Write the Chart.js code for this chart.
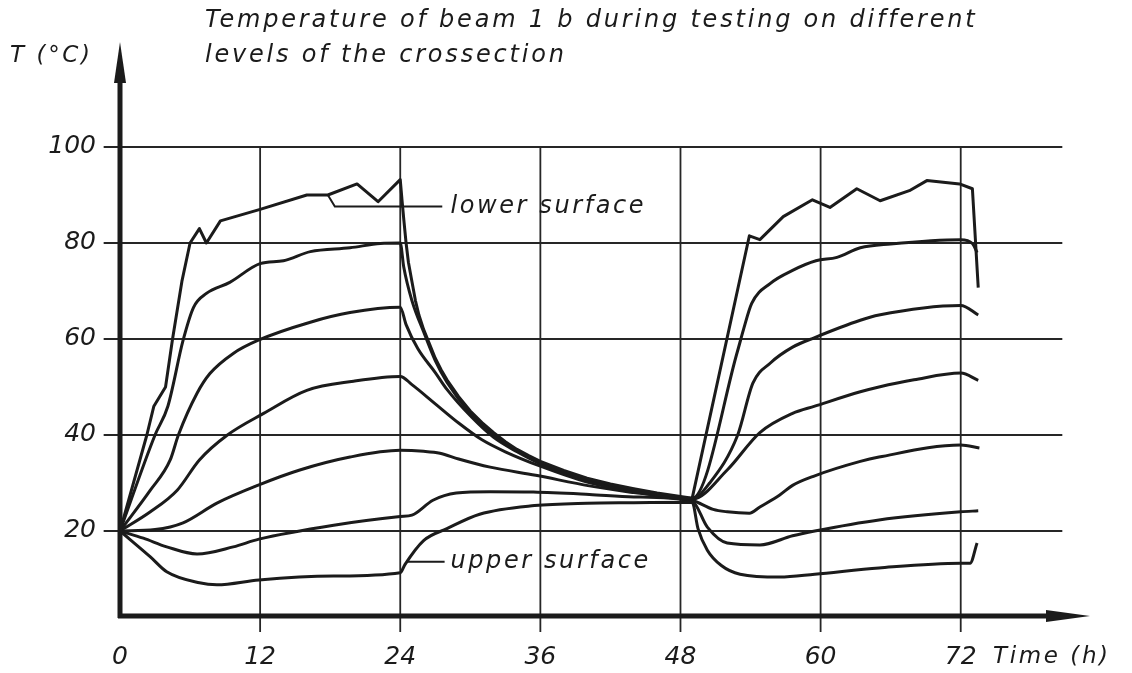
<!DOCTYPE html>
<html>
<head>
<meta charset="utf-8">
<title>Temperature of beam 1b</title>
<script src="https://cdn.jsdelivr.net/npm/chart.js@4.4.1/dist/chart.umd.min.js"></script>
<style>
  html, body { margin: 0; padding: 0; background: #fff; }
  #wrap { width: 1132px; height: 673px; }
</style>
</head>
<body>
<div id="wrap"><canvas id="chartContainer"></canvas></div>
<script>
// tick values of the two axes
const hourTicks = [0, 12, 24, 36, 48, 60, 72];
const tempTicks = [20, 40, 60, 80, 100];

// measured temperatures, one curve per level of the crossection (lower surface first)
const level1Time = [0, 2.3, 2.9, 3.9, 4.5, 5.3, 6.0, 6.8, 7.4, 8.6, 12, 16, 17.8, 20.3, 22.1, 24, 24.15, 24.3, 24.5, 24.7, 25, 25.3, 25.6, 26, 26.5, 27, 27.5, 28, 29, 30, 31, 32, 33, 34, 35, 36, 38, 40, 42, 44, 46, 49, 53.9, 54.8, 56.8, 59.3, 60.8, 63.1, 65.1, 67.6, 69.1, 71.9, 73, 73.5];
const level1Temp = [20, 40, 46, 50, 60, 72, 80, 83, 80, 84.6, 87, 90, 90, 92.3, 88.6, 93.2, 89, 85, 80, 76, 72, 68, 65, 62, 59, 56, 53.6, 51.5, 48, 45, 42.6, 40.5, 38.6, 37, 35.7, 34.5, 32.6, 31, 29.8, 28.8, 27.9, 26.8, 81.5, 80.7, 85.5, 89, 87.4, 91.3, 88.8, 90.9, 93, 92.3, 91.3, 70.7];

const level2Time = [0, 3.0, 4.1, 5.4, 6.3, 7.4, 9.4, 12, 14, 16.3, 19.7, 22.3, 24, 24.3, 25, 26, 27, 28, 30, 32, 34, 36, 40, 44, 49, 52.9, 53.4, 54.1, 55.7, 57.6, 59.6, 61.4, 63.4, 66, 72, 73, 73.4];
const level2Temp = [20, 40, 46, 59.7, 66.6, 69.5, 71.8, 75.7, 76.3, 78.2, 79, 79.9, 80, 75, 68, 61.5, 55.5, 51, 44.5, 40, 36.8, 34.3, 30.8, 28.6, 26.8, 57.6, 62, 67.4, 71.6, 74.3, 76.3, 77, 79, 79.8, 80.7, 79.9, 78];

const level3Time = [0, 2.6, 4.3, 5.0, 6.6, 7.7, 9.7, 11.8, 16.3, 19.7, 24, 24.5, 25.5, 27, 28, 30, 32, 34, 36, 40, 44, 49, 50.5, 52.9, 54.2, 55.7, 57.6, 59.5, 63.4, 65, 72, 73.5];
const level3Temp = [20, 28.5, 34.8, 40, 48.7, 52.8, 57, 59.7, 63.5, 65.5, 66.6, 63, 58, 53, 49.5, 44, 39.5, 36.5, 34, 30.5, 28.4, 26.7, 30, 40, 50.8, 55, 58.3, 60.3, 63.9, 65, 67, 65];

const level4Time = [0, 2.6, 4.9, 6.8, 9.2, 12.3, 16, 20, 24, 25, 27, 29, 31, 33, 36, 40, 44, 49, 52, 54.8, 57.6, 59.5, 63.4, 65, 68, 72, 73.5];
const level4Temp = [20, 24, 28.5, 34.8, 40, 44.5, 49.3, 51.2, 52.2, 50.5, 46.5, 42.5, 39, 36.5, 33.5, 30.2, 28.2, 26.6, 32.7, 40.5, 44.5, 46, 49, 50, 51.5, 52.9, 51.4];

const level5Time = [0, 3, 5.4, 8.3, 11.9, 15.4, 19.7, 24, 26, 27.4, 29, 31.7, 35.6, 40.2, 44, 49, 50.8, 52, 53.9, 54.8, 56.5, 57.6, 59.5, 63.4, 65, 72, 73.6];
const level5Temp = [20, 20.3, 21.7, 25.8, 29.6, 32.7, 35.4, 36.8, 36.6, 36.2, 35, 33.3, 31.6, 29.4, 28, 26.4, 24.5, 24, 23.7, 25, 27.5, 29.5, 31.5, 34.5, 35.4, 37.9, 37.3];

const level6Time = [0, 2, 4, 6.6, 9.7, 11.9, 18.3, 24, 25, 26.8, 28.8, 31.7, 35.4, 40.2, 44, 49, 50.3, 52, 54.8, 57.6, 59.5, 65, 72, 73.5];
const level6Temp = [20, 18.5, 16.7, 15.2, 16.7, 18.3, 21.2, 23, 23.3, 26.4, 27.9, 28.2, 28.1, 27.6, 27.1, 26.2, 20.8, 17.5, 17.1, 19, 20, 22.3, 24, 24.2];

const level7Time = [0, 2.6, 4, 6.8, 8.3, 11.9, 18.3, 24, 24.4, 26, 28, 30.8, 35.5, 40, 44, 49, 49.5, 50.3, 51.5, 53.1, 56.5, 59.5, 65, 72, 72.8, 73.4];
const level7Temp = [20, 14.6, 11.5, 9.2, 8.8, 9.8, 10.6, 11.3, 13, 18, 20.5, 23.5, 25.3, 25.8, 25.9, 26, 20.5, 16, 12.8, 11, 10.4, 11, 12.3, 13.3, 13.3, 17.5];

const levels = [
    [level1Time, level1Temp], [level2Time, level2Temp], [level3Time, level3Temp],
    [level4Time, level4Temp], [level5Time, level5Temp], [level6Time, level6Temp],
    [level7Time, level7Temp]
];

const FONT = "'DejaVu Sans', sans-serif";
const INK = '#1b1b1b';

/**
 * Pairs a time array with its temperature array as {x, y} points.
 */
function toPoints(times, temps) {
    return times.map((t, i) => ({ x: t, y: temps[i] }));
}

function drawText(ctx, text, px, py, size, spacing) {
    ctx.font = 'italic ' + size + 'px ' + FONT;
    ctx.letterSpacing = spacing + 'px';
    ctx.textAlign = 'left';
    ctx.textBaseline = 'middle';
    ctx.fillText(text, px, py);
}

// grid, axes with arrows, leader lines and texts
const sketchPlugin = {
    id: 'sketch',
    beforeDatasetsDraw(chart) {
        const { ctx, scales: { x, y } } = chart;
        ctx.save();
        ctx.strokeStyle = '#262626';
        ctx.lineWidth = 1.8;
        tempTicks.forEach(v => {
            ctx.beginPath();
            ctx.moveTo(x.getPixelForValue(-1.4), y.getPixelForValue(v));
            ctx.lineTo(x.getPixelForValue(80.7), y.getPixelForValue(v));
            ctx.stroke();
        });
        hourTicks.slice(1).forEach(v => {
            ctx.beginPath();
            ctx.moveTo(x.getPixelForValue(v), y.getPixelForValue(100));
            ctx.lineTo(x.getPixelForValue(v), y.bottom + 16);
            ctx.stroke();
        });
        ctx.restore();
    },
    afterDatasetsDraw(chart) {
        const { ctx, scales: { x, y } } = chart;
        const x0 = x.getPixelForValue(0);
        const yb = y.bottom;
        ctx.save();
        ctx.strokeStyle = INK;
        ctx.fillStyle = INK;

        // axes
        ctx.lineWidth = 5;
        ctx.beginPath();
        ctx.moveTo(x0, yb + 2);
        ctx.lineTo(x0, y.top + 30);
        ctx.moveTo(x0 - 2, yb);
        ctx.lineTo(x.right - 30, yb);
        ctx.stroke();
        ctx.beginPath();
        ctx.moveTo(x0, y.top - 3);
        ctx.lineTo(x0 - 6, y.top + 38);
        ctx.lineTo(x0 + 6, y.top + 38);
        ctx.closePath();
        ctx.fill();
        ctx.beginPath();
        ctx.moveTo(x.right + 2, yb);
        ctx.lineTo(x.right - 42, yb - 6);
        ctx.lineTo(x.right - 42, yb + 6);
        ctx.closePath();
        ctx.fill();

        // leader lines
        ctx.lineWidth = 2;
        ctx.beginPath();
        ctx.moveTo(x.getPixelForValue(17.8), y.getPixelForValue(90));
        ctx.lineTo(x.getPixelForValue(18.4), y.getPixelForValue(87.6));
        ctx.lineTo(x.getPixelForValue(27.6), y.getPixelForValue(87.6));
        ctx.moveTo(x.getPixelForValue(24.5), y.getPixelForValue(13.6));
        ctx.lineTo(x.getPixelForValue(27.8), y.getPixelForValue(13.6));
        ctx.stroke();

        drawText(ctx, 'lower surface', x.getPixelForValue(28.3), y.getPixelForValue(87.6), 24, 2.6);
        drawText(ctx, 'upper surface', x.getPixelForValue(28.3), y.getPixelForValue(13.6), 24, 2.6);

        // titles
        drawText(ctx, 'Temperature of beam 1 b during testing on different', 205, 21, 24, 2.8);
        drawText(ctx, 'levels of the crossection', 205, 56, 24, 2.8);
        drawText(ctx, 'T (°C)', 10, 56, 23, 2.6);
        drawText(ctx, 'Time (h)', 993, 657, 23, 2.6);
        ctx.restore();
    }
};

function drawChart() {
    const ctx = document.getElementById('chartContainer');
    const tickFont = { family: FONT, size: 25, style: 'italic' };
    window.myChart = new Chart(ctx, {
        type: 'line',
        data: {
            datasets: levels.map(([times, temps], i) => ({
                label: 'Level ' + (i + 1),
                data: toPoints(times, temps),
                fill: false,
                borderColor: INK,
                borderWidth: 3,
                pointRadius: 0,
                tension: 0,
                cubicInterpolationMode: i === 0 ? 'default' : 'monotone',
                borderJoinStyle: 'round'
            }))
        },
        options: {
            animation: false,
            responsive: true,
            maintainAspectRatio: false,
            layout: { padding: { top: 45, right: 44, left: 0, bottom: 0 } },
            scales: {
                x: {
                    type: 'linear',
                    position: 'bottom',
                    min: 0,
                    max: 82.9,
                    grid: { display: false, drawTicks: false, tickLength: 0 },
                    border: { display: false },
                    afterBuildTicks: scale => { scale.ticks = hourTicks.map(v => ({ value: v })); },
                    afterFit: scale => { scale.height = 57; },
                    ticks: { color: INK, font: tickFont, padding: 26, autoSkip: false, maxRotation: 0 }
                },
                y: {
                    type: 'linear',
                    min: 2.29,
                    max: 121.25,
                    grid: { display: false, drawTicks: false, tickLength: 0 },
                    border: { display: false },
                    afterBuildTicks: scale => { scale.ticks = tempTicks.map(v => ({ value: v })); },
                    afterFit: scale => { scale.width = 120; },
                    ticks: { color: INK, font: tickFont, padding: 24, autoSkip: false }
                }
            },
            plugins: {
                legend: { display: false },
                tooltip: { enabled: false }
            }
        },
        plugins: [sketchPlugin]
    });
}

drawChart();
</script>
</body>
</html>
